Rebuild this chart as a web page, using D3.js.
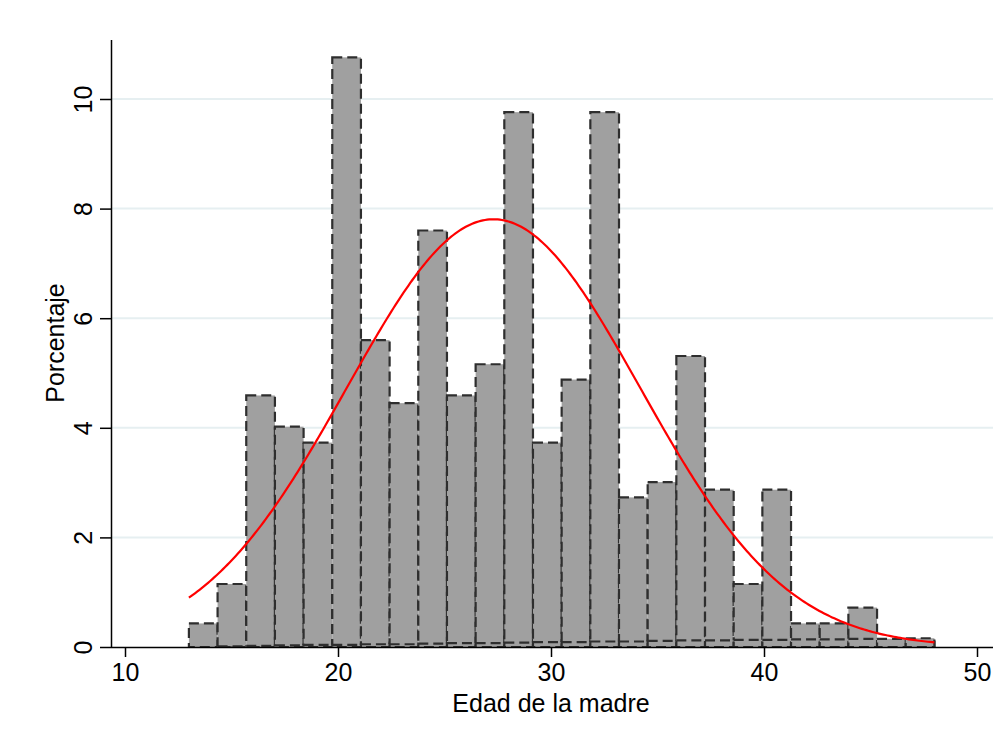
<!DOCTYPE html>
<html>
<head>
<meta charset="utf-8">
<script src="https://cdn.jsdelivr.net/npm/d3@7"></script>
<style>
  body { margin: 0; background: #fff; }
  text { font-family: "Liberation Sans", Arial, sans-serif; fill: #000; }
</style>
</head>
<body>
<div id="chart"></div>
<script>
// Data
var binStart = 13;
var binEnd = 48;
var percents = [0.43, 1.15, 4.59, 4.02, 3.73, 10.76, 5.60, 4.45, 7.60, 4.59, 5.16, 9.76, 3.73,
  4.88, 9.76, 2.73, 3.01, 5.31, 2.87, 1.15, 2.87, 0.43, 0.43, 0.72, 0, 0.14];
// second (near-zero) dashed histogram along the bottom
var lowPercents = [0.00, 0.01, 0.02, 0.03, 0.04, 0.04, 0.05, 0.05, 0.06, 0.07, 0.07, 0.08, 0.09,
  0.09, 0.10, 0.10, 0.11, 0.12, 0.12, 0.13, 0.13, 0.14, 0.14, 0.15, 0.15, 0.16];
var xTicks = [10, 20, 30, 40, 50];
var yTicks = [0, 2, 4, 6, 8, 10];
var normMean = 27.3;
var normSd = 6.88;

var chartWidth = 1003;
var chartHeight = 736;
var binWidth = (binEnd - binStart) / percents.length;

var svg = d3.select("#chart")
  .append("svg")
  .attr("width", chartWidth)
  .attr("height", chartHeight);

// Scales
const xScale = d3.scaleLinear().domain([10, 50]).range([125, 977]);
const yScale = d3.scaleLinear().domain([0, 10]).range([647, 99]);

// Gridlines
svg.selectAll('line.grid')
  .data(yTicks.filter(d => d > 0))
  .enter()
  .append('line')
  .attr('x1', 111).attr('x2', 993)
  .attr('y1', d => yScale(d)).attr('y2', d => yScale(d))
  .attr('stroke', '#e6eff1')
  .attr('stroke-width', 2);

// Bars
function bars(values) {
  const g = svg.append('g');
  g.selectAll('rect')
    .data(values.map((v, i) => ({ v: v, i: i })).filter(d => d.v > 0))
    .enter()
    .append('rect')
    .attr('x', d => xScale(binStart + d.i * binWidth))
    .attr('y', d => yScale(d.v))
    .attr('width', d => xScale(binStart + (d.i + 1) * binWidth) - xScale(binStart + d.i * binWidth))
    .attr('height', d => yScale(0) - yScale(d.v))
    .attr('fill', '#a0a0a0')
    .attr('stroke', '#2e2e2e')
    .attr('stroke-width', 2.2)
    .attr('stroke-dasharray', '10,5');
}
bars(percents);
bars(lowPercents);

// Normal curve
const curveX = d3.range(binStart, binEnd + 0.01, 0.1);
const dens = x => 100 * binWidth / (normSd * Math.sqrt(2 * Math.PI)) *
  Math.exp(-0.5 * Math.pow((x - normMean) / normSd, 2));
svg.append('path')
  .datum(curveX)
  .attr('fill', 'none')
  .attr('stroke', '#ff0000')
  .attr('stroke-width', 2.2)
  .attr('d', d3.line().x(d => xScale(d)).y(d => yScale(dens(d))));

// Axes
const xAxis = svg.append('g')
  .attr('transform', 'translate(0,647)')
  .call(d3.axisBottom(xScale).tickValues(xTicks).tickSize(10).tickPadding(6));
xAxis.select('.domain').attr('d', 'M111,0.5H993');
xAxis.selectAll('text').attr('font-size', 25).attr('font-family', 'Liberation Sans, Arial, sans-serif');
xAxis.selectAll('line,path').attr('stroke', '#000').attr('stroke-width', 1.5);

const yAxis = svg.append('g')
  .attr('transform', 'translate(111,0)')
  .call(d3.axisLeft(yScale).tickValues(yTicks).tickSize(11).tickFormat(d3.format('d')));
yAxis.select('.domain').attr('d', 'M0.5,40V647');
yAxis.selectAll('line,path').attr('stroke', '#000').attr('stroke-width', 1.5);
yAxis.selectAll('text')
  .attr('font-size', 25)
  .attr('font-family', 'Liberation Sans, Arial, sans-serif')
  .attr('text-anchor', 'middle')
  .attr('x', null).attr('dy', null)
  .attr('transform', 'translate(-19,0) rotate(-90)');

// Titles
svg.append('text')
  .attr('x', 551).attr('y', 712)
  .attr('text-anchor', 'middle')
  .attr('font-size', 25)
  .text('Edad de la madre');
svg.append('text')
  .attr('transform', 'translate(64,343) rotate(-90)')
  .attr('text-anchor', 'middle')
  .attr('font-size', 25)
  .text('Porcentaje');
</script>
</body>
</html>
